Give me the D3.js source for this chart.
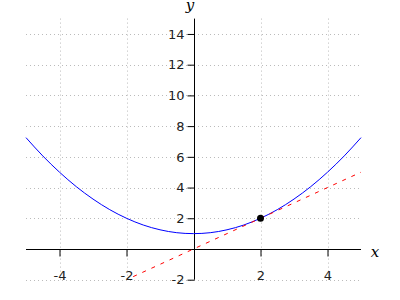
<!DOCTYPE html>
<html><head><meta charset="utf-8">
<script src="https://cdn.jsdelivr.net/npm/d3@7"></script>
<style>body{margin:0;background:#fff}svg{display:block}</style>
</head><body>
<svg id="c" width="400" height="300"></svg>
<script>
const curveX = [-5,-4.5,-4,-3.5,-3,-2.5,-2,-1.5,-1,-0.5,0,0.5,1,1.5,2,2.5,3,3.5,4,4.5,5];
const curveY = [7.25,6.06,5,4.06,3.25,2.56,2,1.56,1.25,1.06,1,1.06,1.25,1.56,2,2.56,3.25,4.06,5,6.06,7.25];
const tangentX = [-1.8,5];
const tangentY = [-1.8,5];
const pointX = [2];
const pointY = [2];
const xTicks = [-4,-2,2,4];
const yTicks = [-2,2,4,6,8,10,12,14];

const svg = d3.select("#c");
const x = d3.scaleLinear().domain([-5,5]).range([26,361]);
const y = d3.scaleLinear().domain([-2,15]).range([279.7,18.6]);

// grid
const g = svg.append("g").attr("stroke","#bbb").attr("stroke-width",1).attr("stroke-dasharray","1,3");
g.selectAll(".v").data(xTicks).join("line")
  .attr("x1",d=>Math.round(x(d))+0.5).attr("x2",d=>Math.round(x(d))+0.5)
  .attr("y1",y(15)).attr("y2",y(-2));
g.selectAll(".h").data(yTicks).join("line")
  .attr("y1",d=>Math.round(y(d))+0.5).attr("y2",d=>Math.round(y(d))+0.5)
  .attr("x1",x(-5)).attr("x2",x(5));

// axes
const fmt = d => String(d);
const xAxis = d3.axisBottom(x).tickValues(xTicks).tickFormat(fmt).tickSize(7).tickPadding(14).tickSizeOuter(0);
const yAxis = d3.axisLeft(y).tickValues(yTicks).tickFormat(fmt).tickSize(7).tickPadding(3).tickSizeOuter(0);
const ax = svg.append("g").attr("transform",`translate(0,${Math.round(y(0))+0.5})`).call(xAxis);
const ay = svg.append("g").attr("transform",`translate(${Math.round(x(0))+0.5},0)`).call(yAxis);
[ax,ay].forEach(a=>{
  a.select(".domain").attr("stroke","#000");
  a.selectAll(".tick line").attr("stroke","#000");
  a.selectAll("text").attr("font-family","DejaVu Sans").attr("font-size",13).attr("fill","#222");
});
ax.select(".domain").attr("d",`M${x(-5)},0H${x(5)}`);
ay.select(".domain").attr("d",`M0,${y(-2)}V${y(15)}`);

// curve
const pts = curveX.map((d,i)=>[d,curveY[i]]);
svg.append("path").datum(pts)
  .attr("fill","none").attr("stroke","#0000ff").attr("stroke-width",1)
  .attr("d",d3.line().x(d=>x(d[0])).y(d=>y(d[1])).curve(d3.curveMonotoneX));

// tangent
svg.append("path").datum(tangentX.map((d,i)=>[d,tangentY[i]]))
  .attr("fill","none").attr("stroke","#ff0000").attr("stroke-width",1).attr("stroke-dasharray","4,6")
  .attr("d",d3.line().x(d=>x(d[0])).y(d=>y(d[1])));

// point
svg.selectAll(".pt").data(pointX).join("circle")
  .attr("cx",d=>x(d)).attr("cy",(d,i)=>y(pointY[i])).attr("r",3.5).attr("fill","#000");

// axis labels
svg.append("text").attr("x",375).attr("y",257).attr("text-anchor","middle")
  .attr("font-family","DejaVu Serif").attr("font-style","italic").attr("font-size",15).text("x");
svg.append("text").attr("x",190).attr("y",10).attr("text-anchor","middle")
  .attr("font-family","DejaVu Serif").attr("font-style","italic").attr("font-size",15).text("y");
</script>
</body></html>
